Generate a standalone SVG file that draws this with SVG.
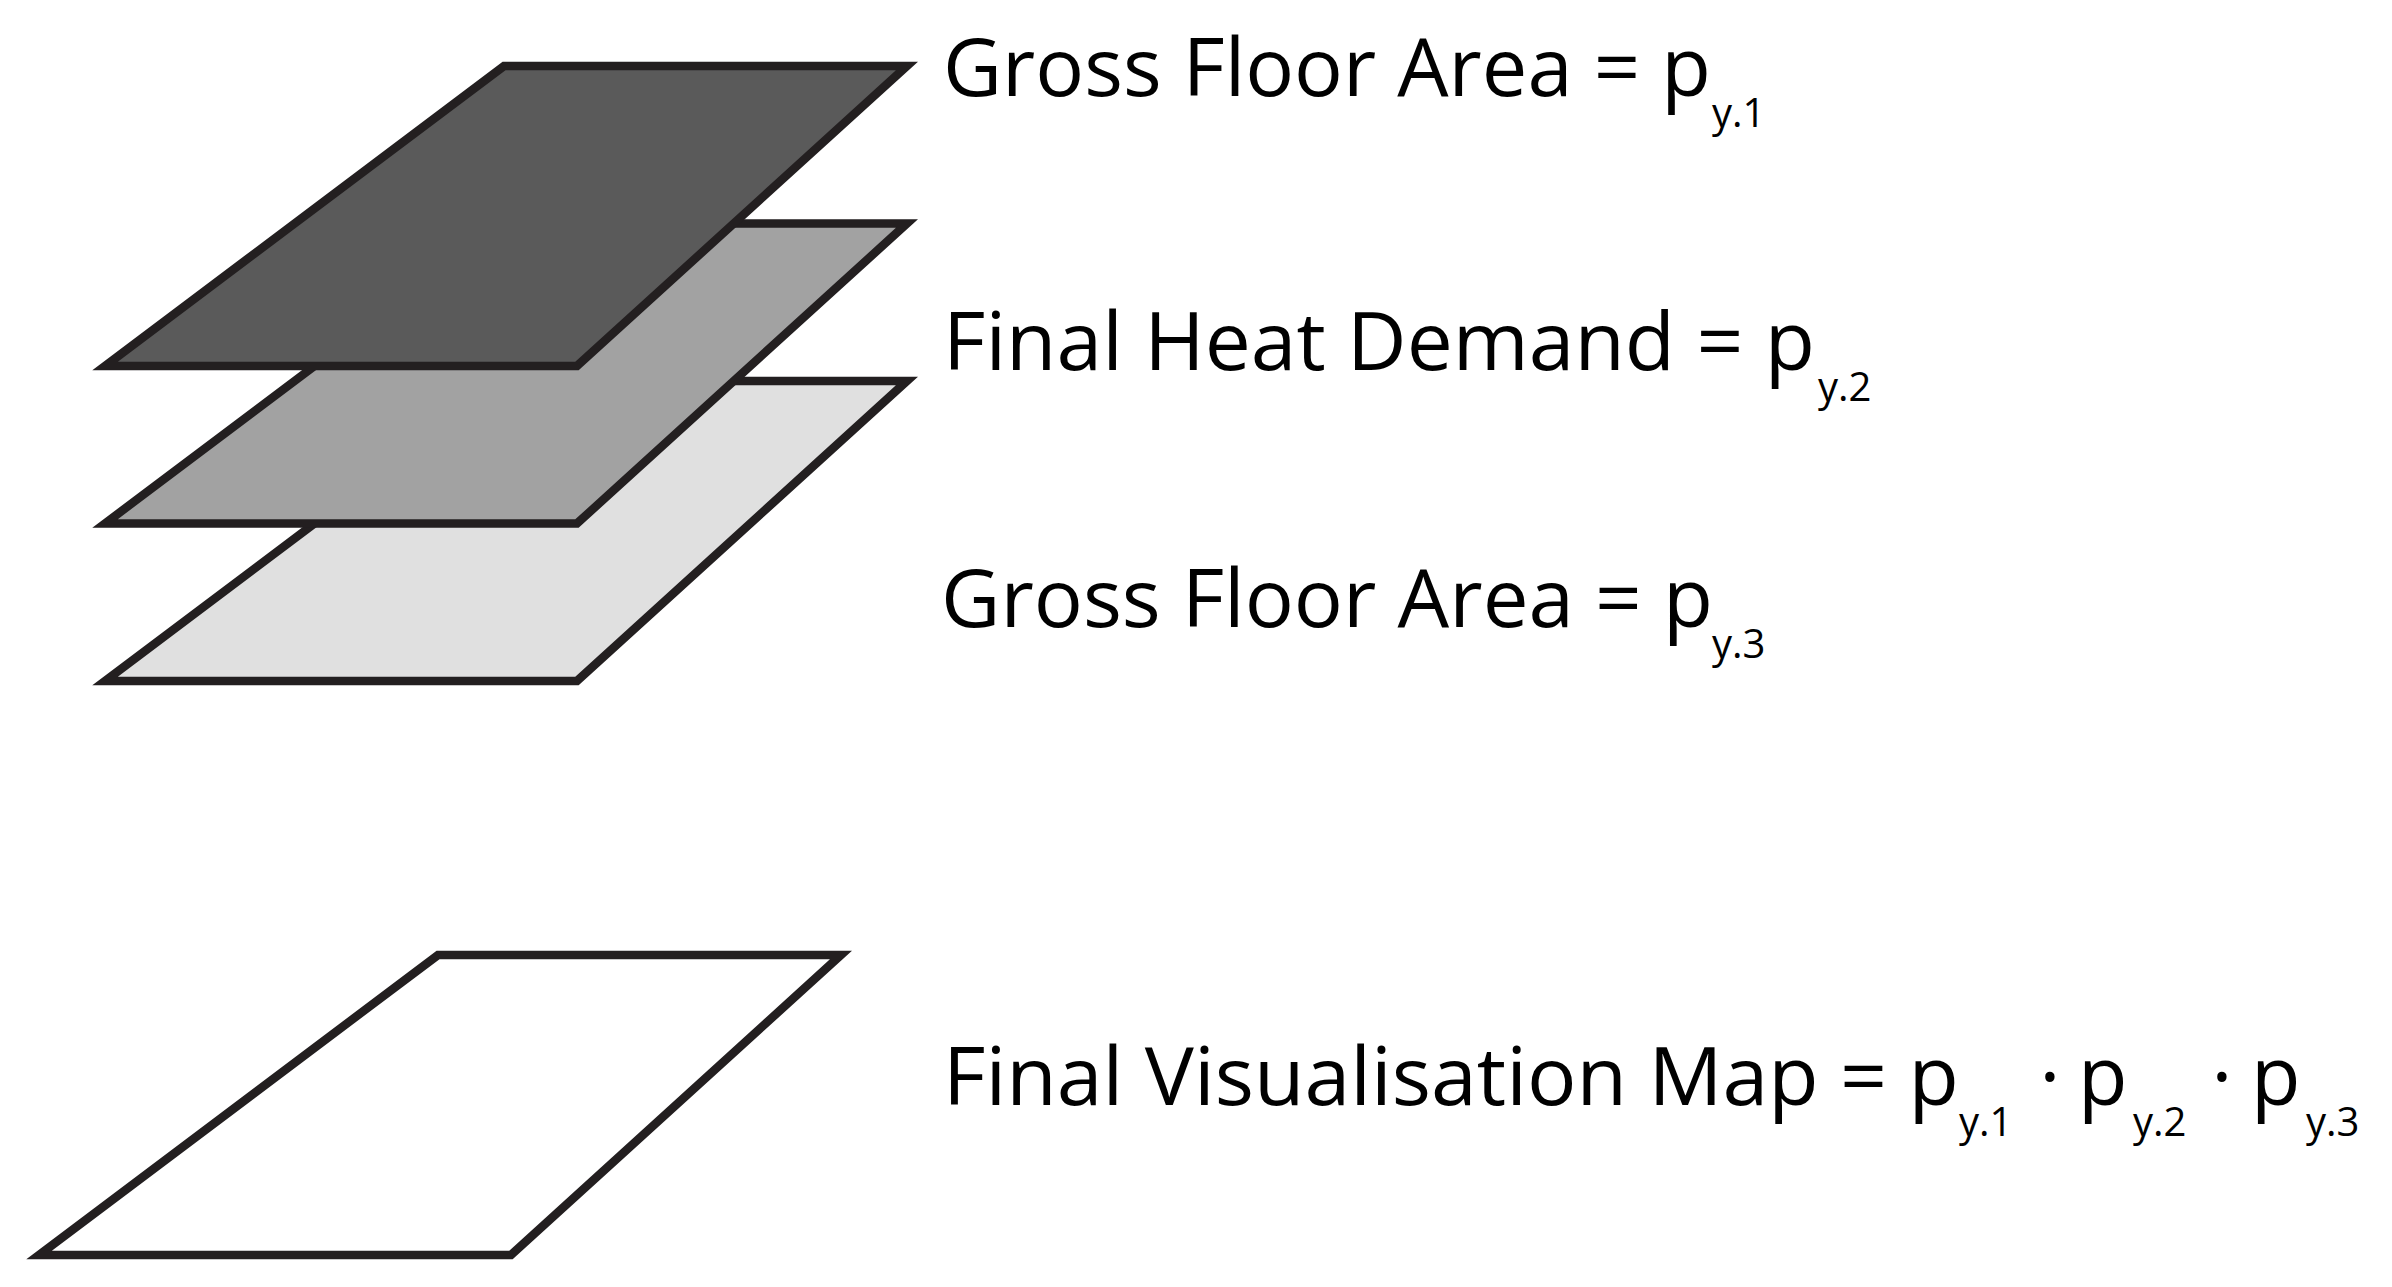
<svg xmlns="http://www.w3.org/2000/svg" width="2392" height="1287" viewBox="0 0 2392 1287">
<style>
.layer{stroke:#231f20;stroke-width:8.5;stroke-linejoin:miter;stroke-miterlimit:10}
.dark{fill:#5a5a5a}
.mid{fill:#a2a2a2}
.light{fill:#e0e0e0}
.blank{fill:#ffffff}
.lbl{font-family:"Open Sans","Liberation Sans",sans-serif;font-size:81px;fill:#000}
.sub{font-family:"Open Sans","Liberation Sans",sans-serif;font-size:40px;fill:#000}
</style>
<rect width="2392" height="1287" fill="#ffffff"/>
<g id="layer3">
<polygon class="layer light" points="504,381 907,381 577,681 105,681"/>
</g>
<g id="layer2">
<polygon class="layer mid" points="504,223.5 907,223.5 577,523.5 105,523.5"/>
</g>
<g id="layer1">
<polygon class="layer dark" points="504,66 907,66 577,366 105,366"/>
</g>
<g id="final-map">
<polygon class="layer blank" points="438,955 841,955 511,1255 39,1255"/>
</g>
<g id="label1">
<text class="lbl" x="943" y="96" textLength="768" lengthAdjust="spacingAndGlyphs">Gross Floor Area = p</text>
<text class="sub" x="1712" y="127">y.1</text>
</g>
<g id="label2">
<text class="lbl" x="943" y="370" textLength="872" lengthAdjust="spacingAndGlyphs">Final Heat Demand = p</text>
<text class="sub" x="1818" y="401">y.2</text>
</g>
<g id="label3">
<text class="lbl" x="941" y="627" textLength="772" lengthAdjust="spacingAndGlyphs">Gross Floor Area = p</text>
<text class="sub" x="1712" y="658">y.3</text>
</g>
<g id="label4">
<text class="lbl" x="943" y="1105" textLength="1016" lengthAdjust="spacingAndGlyphs">Final Visualisation Map = p</text>
<text class="sub" x="1959" y="1136">y.1</text>
<text class="lbl" x="2050" y="1105" text-anchor="middle">·</text>
<text class="lbl" x="2078" y="1105">p</text>
<text class="sub" x="2133" y="1136">y.2</text>
<text class="lbl" x="2222" y="1105" text-anchor="middle">·</text>
<text class="lbl" x="2251" y="1105">p</text>
<text class="sub" x="2306" y="1136">y.3</text>
</g>
<g id="connectors"></g>
</svg>
